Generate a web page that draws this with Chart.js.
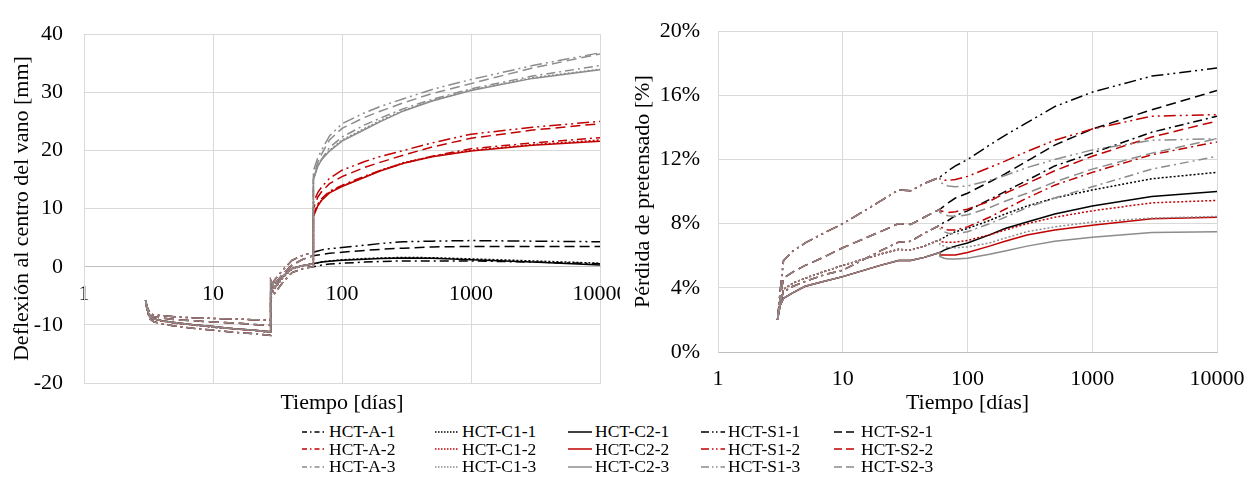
<!DOCTYPE html>
<html>
<head>
<meta charset="utf-8">
<script src="https://cdn.jsdelivr.net/npm/chart.js@4.4.0/dist/chart.umd.min.js"></script>
<style>
  body { margin: 0; background: #fff; width: 1256px; height: 479px; position: relative; overflow: hidden;
         font-family: 'Liberation Serif', 'Times New Roman', serif; }
  #deflexion { position: absolute; left: 0; top: 0; }
  #perdida { position: absolute; left: 620px; top: 0; background: #fff; }
  #leyenda { position: absolute; left: 302px; top: 423px; display: grid;
             grid-template-columns: repeat(5, 133px); grid-auto-rows: 17.5px;
             font-size: 17.5px; color: #000; }
  .item { display: flex; align-items: center; white-space: nowrap; line-height: 17.5px; }
  .item svg { margin-right: 3px; flex: none; }
</style>
</head>
<body>
<canvas id="deflexion" width="645" height="420"></canvas>
<canvas id="perdida" width="640" height="420"></canvas>
<div id="leyenda"></div>
<script>
// ---- ejes ----
const xTicks = [1, 10, 100, 1000, 10000];

// ---- deflexion [mm] ----
const defEarlyDays = [3, 3.1, 3.25, 3.5, 4, 5, 7, 10, 15, 20, 28, 28, 30, 35, 41, 50, 60];
const defA  = [-5.8, -7.8, -9.0, -9.5, -9.8, -10.2, -10.6, -10.9, -11.3, -11.5, -11.8, -5.5, -4.6, -2.6, -1.0, -0.3, 0.0];
const defC1 = [-5.8, -7.5, -8.7, -9.0, -9.3, -9.7, -10.0, -10.4, -10.7, -10.9, -11.3, -5.0, -3.8, -1.8, -0.4, 0.2, 0.5];
const defC2 = [-5.8, -7.5, -8.7, -9.0, -9.3, -9.6, -10.0, -10.3, -10.7, -10.9, -11.2, -2.3, -3.6, -1.6, -0.3, 0.2, 0.5];
const defS1 = [-5.8, -7.0, -8.1, -8.3, -8.4, -8.6, -8.8, -8.9, -9.0, -9.1, -9.2, -4.0, -2.3, -0.5, 1.1, 2.0, 2.5];
const defS2 = [-5.8, -7.2, -8.4, -8.6, -8.8, -9.1, -9.3, -9.5, -9.7, -9.9, -10.1, -4.5, -3.0, -1.2, 0.3, 1.3, 1.9];

const defLateDays = [60, 65, 70, 80, 100, 150, 200, 300, 500, 1000, 3000, 10000];
const defA_1  = [0.0, 0.15, 0.3, 0.45, 0.6, 0.8, 0.9, 1.0, 1.0, 1.0, 0.8, 0.5];
const defA_2  = [9.0, 10.8, 11.8, 13.0, 14.0, 15.6, 16.6, 17.8, 19.0, 20.3, 21.3, 22.2];
const defA_3  = [15.2, 17.4, 18.6, 20.5, 22.3, 24.4, 25.6, 27.2, 28.8, 30.6, 32.8, 34.6];
const defC1_1 = [0.5, 0.7, 0.85, 1.0, 1.2, 1.4, 1.5, 1.6, 1.55, 1.35, 1.0, 0.6];
const defC1_2 = [8.8, 10.6, 11.6, 12.8, 13.9, 15.4, 16.6, 17.9, 19.0, 20.0, 21.0, 21.8];
const defC1_3 = [15.0, 17.4, 18.6, 20.0, 21.8, 23.8, 25.2, 26.9, 28.6, 30.4, 32.5, 34.0];
const defC2_1 = [0.5, 0.7, 0.8, 0.95, 1.1, 1.3, 1.4, 1.5, 1.45, 1.2, 0.8, 0.3];
const defC2_2 = [8.6, 10.5, 11.5, 12.7, 13.8, 15.4, 16.5, 17.8, 18.9, 19.9, 20.9, 21.6];
const defC2_3 = [15.0, 17.3, 18.5, 19.9, 21.6, 23.6, 25.0, 26.8, 28.5, 30.3, 32.4, 33.9];
const defS1_1 = [2.5, 2.7, 2.9, 3.1, 3.3, 3.7, 4.0, 4.3, 4.4, 4.5, 4.4, 4.3];
const defS1_2 = [11.0, 12.8, 13.8, 15.2, 16.6, 18.1, 19.0, 20.0, 21.3, 22.8, 24.0, 25.0];
const defS1_3 = [16.5, 18.8, 20.2, 22.5, 24.6, 26.5, 27.6, 28.9, 30.5, 32.2, 34.6, 36.8];
const defS2_1 = [1.9, 2.0, 2.1, 2.3, 2.5, 2.8, 3.0, 3.2, 3.4, 3.5, 3.5, 3.5];
const defS2_2 = [10.0, 12.0, 13.0, 14.3, 15.5, 17.1, 18.0, 19.2, 20.6, 22.1, 23.5, 24.6];
const defS2_3 = [15.5, 18.0, 19.5, 21.8, 23.8, 25.7, 26.8, 28.2, 29.8, 31.5, 34.2, 36.6];

// ---- perdida de pretensado [%] ----
const lossEarlyDays = [3, 3.15, 3.35, 4, 5, 7, 10, 20, 28, 35, 45, 60];
const lossA  = [2.0, 3.1, 3.75, 4.1, 4.4, 4.8, 5.1, 6.3, 6.85, 6.9, 7.4, 7.9];
const lossC1 = [2.0, 3.2, 3.9, 4.3, 4.6, 5.0, 5.4, 6.1, 6.4, 6.35, 6.6, 7.0];
const lossC2 = [2.0, 2.9, 3.35, 3.7, 4.1, 4.4, 4.7, 5.4, 5.7, 5.7, 5.9, 6.2];
const lossS1 = [2.0, 3.8, 5.7, 6.3, 6.8, 7.4, 8.0, 9.4, 10.1, 10.05, 10.5, 10.9];
const lossS2 = [2.0, 3.4, 4.6, 5.0, 5.4, 5.9, 6.5, 7.5, 8.0, 7.95, 8.4, 8.9];

const lossLateDays = [60, 65, 70, 80, 100, 150, 200, 300, 500, 1000, 3000, 10000];
const lossA_1  = [7.9, 8.1, 8.2, 8.5, 8.8, 9.5, 10.0, 10.7, 11.6, 12.4, 13.7, 14.7];
const lossA_2  = [7.8, 7.7, 7.6, 7.6, 7.8, 8.4, 8.9, 9.6, 10.4, 11.2, 12.3, 13.1];
const lossA_3  = [7.7, 7.5, 7.4, 7.35, 7.5, 8.0, 8.4, 9.0, 9.6, 10.3, 11.4, 12.2];
const lossC1_1 = [7.0, 7.15, 7.3, 7.5, 7.7, 8.2, 8.6, 9.1, 9.6, 10.1, 10.8, 11.2];
const lossC1_2 = [6.9, 6.85, 6.85, 6.85, 6.95, 7.3, 7.6, 8.0, 8.4, 8.8, 9.3, 9.45];
const lossC1_3 = [6.7, 6.6, 6.5, 6.5, 6.55, 6.8, 7.1, 7.5, 7.8, 8.1, 8.35, 8.45];
const lossC2_1 = [6.2, 6.35, 6.45, 6.6, 6.8, 7.3, 7.7, 8.1, 8.6, 9.1, 9.7, 10.0];
const lossC2_2 = [6.05, 6.05, 6.05, 6.05, 6.2, 6.6, 6.9, 7.3, 7.6, 7.9, 8.3, 8.4];
const lossC2_3 = [5.95, 5.85, 5.8, 5.8, 5.85, 6.1, 6.3, 6.6, 6.9, 7.15, 7.45, 7.5];
const lossS1_1 = [10.9, 11.1, 11.3, 11.6, 12.0, 12.9, 13.5, 14.3, 15.3, 16.2, 17.2, 17.7];
const lossS1_2 = [10.8, 10.7, 10.7, 10.75, 10.95, 11.5, 11.9, 12.5, 13.2, 13.9, 14.7, 14.8];
const lossS1_3 = [10.6, 10.45, 10.35, 10.3, 10.35, 10.7, 11.0, 11.5, 12.0, 12.6, 13.2, 13.3];
const lossS2_1 = [8.9, 9.1, 9.3, 9.6, 9.9, 10.6, 11.1, 11.9, 12.9, 13.9, 15.1, 16.3];
const lossS2_2 = [8.8, 8.75, 8.7, 8.75, 8.9, 9.4, 9.9, 10.5, 11.3, 12.2, 13.4, 14.4];
const lossS2_3 = [8.7, 8.55, 8.5, 8.45, 8.55, 9.0, 9.4, 9.9, 10.6, 11.4, 12.4, 13.3];

// ---- series (legend order, by rows) ----
const series = [
  ['HCT-A-1',  'A',  0, defA,  defA_1,  lossA,  lossA_1],
  ['HCT-C1-1', 'C1', 0, defC1, defC1_1, lossC1, lossC1_1],
  ['HCT-C2-1', 'C2', 0, defC2, defC2_1, lossC2, lossC2_1],
  ['HCT-S1-1', 'S1', 0, defS1, defS1_1, lossS1, lossS1_1],
  ['HCT-S2-1', 'S2', 0, defS2, defS2_1, lossS2, lossS2_1],
  ['HCT-A-2',  'A',  1, defA,  defA_2,  lossA,  lossA_2],
  ['HCT-C1-2', 'C1', 1, defC1, defC1_2, lossC1, lossC1_2],
  ['HCT-C2-2', 'C2', 1, defC2, defC2_2, lossC2, lossC2_2],
  ['HCT-S1-2', 'S1', 1, defS1, defS1_2, lossS1, lossS1_2],
  ['HCT-S2-2', 'S2', 1, defS2, defS2_2, lossS2, lossS2_2],
  ['HCT-A-3',  'A',  2, defA,  defA_3,  lossA,  lossA_3],
  ['HCT-C1-3', 'C1', 2, defC1, defC1_3, lossC1, lossC1_3],
  ['HCT-C2-3', 'C2', 2, defC2, defC2_3, lossC2, lossC2_3],
  ['HCT-S1-3', 'S1', 2, defS1, defS1_3, lossS1, lossS1_3],
  ['HCT-S2-3', 'S2', 2, defS2, defS2_3, lossS2, lossS2_3]
];

const colors = ['#000000', '#c00000', '#8c8c8c'];
const dashes = { A: [9, 4, 2, 4], C1: [2, 2], C2: [], S1: [12, 4, 2, 4, 2, 4], S2: [10, 5] };
const legendDashes = { A: '5 3 1.5 3', C1: '1.5 1.5', C2: '', S1: '8 3 1.5 2.5 1.5 3', S2: '8 4' };

const FONT = { family: "'Liberation Serif', 'Times New Roman', serif", size: 22 };
const GRID = '#d9d9d9';

function points(days, values) {
  return days.map((d, i) => ({ x: d, y: values[i] }));
}

function setTicks(scale) {
  scale.ticks = xTicks.map(v => ({ value: v }));
}

function buildDatasets(early, late, earlyDays, lateDays) {
  return series.map(s => ({
    label: s[0],
    data: points(earlyDays, s[early]).concat(points(lateDays, s[late])),
    borderColor: colors[s[2]],
    borderWidth: 1.5,
    borderDash: dashes[s[1]],
    pointRadius: 0,
    fill: false,
    tension: 0,
    order: 2 - s[2]
  }));
}

const baseOptions = {
  responsive: false,
  animation: false,
  events: [],
  plugins: { legend: { display: false }, tooltip: { enabled: false } }
};

// ---- grafico izquierdo ----
new Chart(document.getElementById('deflexion'), {
  type: 'line',
  data: { datasets: buildDatasets(3, 4, defEarlyDays, defLateDays) },
  options: Object.assign({}, baseOptions, {
    layout: { padding: { top: 22, right: 45, bottom: 4, left: 0 } },
    scales: {
      x: {
        type: 'logarithmic', min: 1, max: 10000,
        afterBuildTicks: setTicks,
        ticks: { display: false },
        grid: { color: GRID, drawTicks: false },
        border: { color: GRID },
        title: { display: true, text: 'Tiempo [días]', font: FONT, color: '#000', padding: { top: 0, bottom: 0 } },
        afterFit: s => { s.height = 33; }
      },
      x2: {
        axis: 'x', type: 'logarithmic', position: { y: 0 }, min: 1, max: 10000,
        afterBuildTicks: setTicks,
        ticks: { font: FONT, color: '#000', padding: 14, autoSkip: false, maxRotation: 0, callback: v => String(v) },
        grid: { display: false, drawTicks: false },
        border: { color: '#bfbfbf' }
      },
      y: {
        min: -20, max: 40,
        ticks: { stepSize: 10, font: FONT, color: '#000', padding: 21 },
        grid: { color: GRID, drawTicks: false },
        border: { color: GRID },
        title: { display: true, text: 'Deflexión al centro del vano [mm]', font: FONT, color: '#000', padding: { top: 9, bottom: 0 } },
        afterFit: s => { s.width = 84; }
      }
    }
  })
});

// ---- grafico derecho ----
new Chart(document.getElementById('perdida'), {
  type: 'line',
  data: { datasets: buildDatasets(5, 6, lossEarlyDays, lossLateDays) },
  options: Object.assign({}, baseOptions, {
    layout: { padding: { top: 22, right: 43, bottom: 4, left: 0 } },
    scales: {
      x: {
        type: 'logarithmic', min: 1, max: 10000,
        afterBuildTicks: setTicks,
        ticks: { font: FONT, color: '#000', padding: 14, autoSkip: false, maxRotation: 0, callback: v => String(v) },
        grid: { color: GRID, drawTicks: false },
        border: { color: '#bfbfbf' },
        title: { display: true, text: 'Tiempo [días]', font: FONT, color: '#000', padding: { top: 0, bottom: 0 } },
        afterFit: s => { s.height = 64; }
      },
      y: {
        min: 0, max: 20,
        ticks: { stepSize: 4, font: FONT, color: '#000', padding: 18, callback: v => v + '%' },
        grid: { color: GRID, drawTicks: false },
        border: { color: GRID },
        title: { display: true, text: 'Pérdida de pretensado [%]', font: FONT, color: '#000', padding: { top: 10, bottom: 0 } },
        afterFit: s => { s.width = 98; }
      }
    }
  })
});

// ---- leyenda ----
const legendBox = document.getElementById('leyenda');
series.forEach(s => {
  const item = document.createElement('div');
  item.className = 'item';
  item.innerHTML =
    '<svg width="24" height="6"><line x1="0" y1="3" x2="24" y2="3" stroke="' + colors[s[2]] +
    '" stroke-width="1.5" stroke-dasharray="' + legendDashes[s[1]] + '"/></svg><span>' + s[0] + '</span>';
  legendBox.appendChild(item);
});
</script>
</body>
</html>
